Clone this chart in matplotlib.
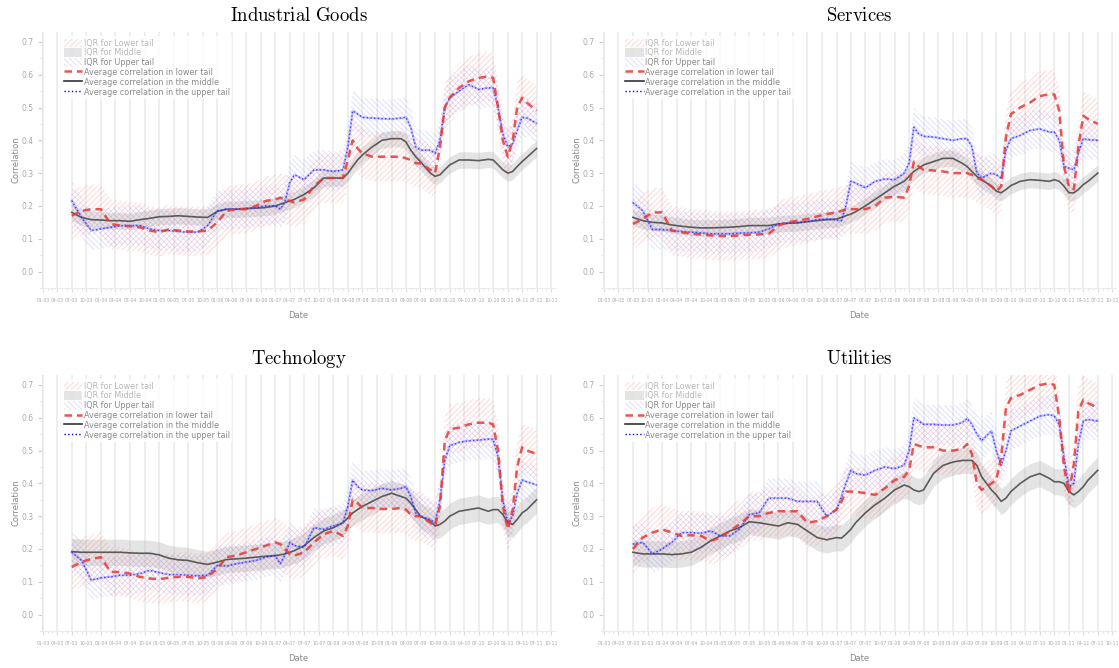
import matplotlib
matplotlib.use("Agg")
import matplotlib.pyplot as plt
import matplotlib.dates as mdates
from matplotlib.patches import Patch
from matplotlib.lines import Line2D
import numpy as np
import pandas as pd

plt.rcParams["mathtext.fontset"] = "cm"
plt.rcParams["hatch.linewidth"] = 0.6

KNOT_MONTHS = [6, 8, 10, 12, 14, 16, 18, 20, 22, 24, 26, 28, 30, 32, 34, 36, 38, 40,
               42, 44, 46, 48, 49, 50, 51, 52, 54, 56, 58, 60, 62, 63, 64, 65, 66,
               68, 70, 72, 74, 75, 76, 77, 78, 80, 81, 82, 83, 84, 86, 88, 90, 92,
               93, 94, 95, 96, 97, 98, 99, 100, 102]

# --- Industrial Goods -------------------------------------------------------
ind_lower = [0.17, 0.185, 0.19, 0.19, 0.145, 0.14, 0.138, 0.135, 0.125, 0.12, 0.128,
             0.125, 0.122, 0.122, 0.125, 0.15, 0.185, 0.19, 0.19, 0.2, 0.215, 0.22,
             0.225, 0.22, 0.215, 0.21, 0.22, 0.26, 0.285, 0.285, 0.285, 0.34, 0.40,
             0.375, 0.36, 0.35, 0.35, 0.35, 0.35, 0.345, 0.34, 0.33, 0.33, 0.31, 0.30,
             0.38, 0.50, 0.53, 0.56, 0.58, 0.59, 0.595, 0.59, 0.50, 0.40, 0.35, 0.40,
             0.50, 0.53, 0.515, 0.49]
ind_middle = [0.18, 0.165, 0.158, 0.157, 0.155, 0.155, 0.153, 0.158, 0.162, 0.167, 0.168,
              0.17, 0.168, 0.166, 0.165, 0.183, 0.19, 0.19, 0.192, 0.193, 0.195, 0.2,
              0.205, 0.21, 0.215, 0.22, 0.235, 0.255, 0.285, 0.285, 0.285, 0.3, 0.32,
              0.34, 0.355, 0.38, 0.40, 0.405, 0.405, 0.395, 0.37, 0.35, 0.335, 0.30,
              0.29, 0.295, 0.31, 0.325, 0.34, 0.34, 0.338, 0.342, 0.34, 0.325, 0.31,
              0.30, 0.305, 0.32, 0.335, 0.348, 0.375]
ind_upper = [0.216, 0.165, 0.125, 0.13, 0.135, 0.14, 0.14, 0.14, 0.13, 0.125, 0.125,
             0.122, 0.12, 0.12, 0.14, 0.185, 0.19, 0.19, 0.192, 0.195, 0.2, 0.2, 0.19,
             0.21, 0.27, 0.295, 0.28, 0.31, 0.31, 0.305, 0.31, 0.38, 0.49, 0.48, 0.47,
             0.468, 0.466, 0.465, 0.468, 0.47, 0.44, 0.38, 0.37, 0.37, 0.36, 0.40,
             0.50, 0.53, 0.55, 0.57, 0.555, 0.56, 0.56, 0.50, 0.42, 0.38, 0.39, 0.43,
             0.47, 0.468, 0.452]

# --- Services ---------------------------------------------------------------
srv_lower = [0.145, 0.16, 0.18, 0.18, 0.125, 0.12, 0.115, 0.113, 0.11, 0.108, 0.108,
             0.11, 0.112, 0.113, 0.115, 0.14, 0.15, 0.155, 0.16, 0.168, 0.175, 0.18,
             0.185, 0.19, 0.19, 0.19, 0.19, 0.2, 0.225, 0.228, 0.225, 0.26, 0.335,
             0.32, 0.31, 0.308, 0.305, 0.30, 0.30, 0.30, 0.295, 0.285, 0.28, 0.26,
             0.245, 0.26, 0.41, 0.48, 0.50, 0.515, 0.535, 0.54, 0.54, 0.49, 0.32,
             0.26, 0.25, 0.38, 0.475, 0.465, 0.45]
srv_middle = [0.165, 0.155, 0.15, 0.148, 0.142, 0.138, 0.135, 0.133, 0.133, 0.134, 0.135,
              0.137, 0.14, 0.14, 0.14, 0.145, 0.147, 0.148, 0.152, 0.155, 0.158, 0.16,
              0.165, 0.17, 0.175, 0.182, 0.2, 0.22, 0.24, 0.26, 0.275, 0.29, 0.305,
              0.315, 0.325, 0.335, 0.345, 0.345, 0.33, 0.32, 0.305, 0.29, 0.28, 0.26,
              0.245, 0.24, 0.25, 0.262, 0.275, 0.28, 0.278, 0.275, 0.28, 0.275, 0.26,
              0.24, 0.24, 0.25, 0.265, 0.275, 0.30]
srv_upper = [0.21, 0.185, 0.128, 0.128, 0.125, 0.122, 0.12, 0.118, 0.115, 0.115, 0.115,
             0.117, 0.118, 0.12, 0.13, 0.145, 0.148, 0.15, 0.152, 0.158, 0.16, 0.157,
             0.155, 0.2, 0.275, 0.27, 0.255, 0.275, 0.282, 0.28, 0.30, 0.33, 0.44,
             0.42, 0.412, 0.41, 0.405, 0.40, 0.405, 0.405, 0.38, 0.30, 0.285, 0.30,
             0.295, 0.285, 0.37, 0.405, 0.415, 0.43, 0.435, 0.425, 0.425, 0.40, 0.32,
             0.315, 0.31, 0.36, 0.405, 0.402, 0.40]

# --- Technology -------------------------------------------------------------
tec_lower = [0.145, 0.16, 0.17, 0.175, 0.13, 0.13, 0.125, 0.115, 0.11, 0.108, 0.112,
             0.115, 0.115, 0.11, 0.115, 0.14, 0.175, 0.18, 0.19, 0.2, 0.21, 0.22,
             0.215, 0.20, 0.185, 0.18, 0.19, 0.22, 0.245, 0.255, 0.24, 0.27, 0.35,
             0.34, 0.325, 0.325, 0.322, 0.322, 0.325, 0.32, 0.305, 0.30, 0.30, 0.28,
             0.27, 0.33, 0.53, 0.565, 0.57, 0.58, 0.585, 0.585, 0.58, 0.50, 0.33,
             0.26, 0.32, 0.45, 0.51, 0.50, 0.49]
tec_middle = [0.192, 0.19, 0.19, 0.19, 0.19, 0.19, 0.188, 0.187, 0.187, 0.182, 0.172,
              0.167, 0.165, 0.158, 0.153, 0.16, 0.168, 0.17, 0.172, 0.175, 0.178, 0.18,
              0.182, 0.185, 0.19, 0.195, 0.21, 0.235, 0.255, 0.265, 0.28, 0.295, 0.31,
              0.32, 0.33, 0.345, 0.36, 0.37, 0.36, 0.355, 0.34, 0.32, 0.30, 0.285,
              0.27, 0.275, 0.285, 0.30, 0.315, 0.32, 0.325, 0.315, 0.32, 0.32, 0.305,
              0.28, 0.275, 0.29, 0.31, 0.32, 0.35]
tec_upper = [0.19, 0.165, 0.105, 0.112, 0.115, 0.12, 0.12, 0.125, 0.135, 0.128, 0.122,
             0.122, 0.12, 0.118, 0.12, 0.15, 0.148, 0.155, 0.16, 0.165, 0.175, 0.18,
             0.155, 0.18, 0.22, 0.21, 0.205, 0.265, 0.26, 0.27, 0.28, 0.33, 0.41,
             0.39, 0.38, 0.378, 0.385, 0.38, 0.385, 0.39, 0.36, 0.31, 0.30, 0.29,
             0.28, 0.35, 0.47, 0.515, 0.525, 0.53, 0.532, 0.535, 0.535, 0.48, 0.35,
             0.28, 0.30, 0.37, 0.41, 0.405, 0.395]

# --- Utilities --------------------------------------------------------------
utl_lower = [0.20, 0.235, 0.25, 0.26, 0.25, 0.24, 0.242, 0.24, 0.225, 0.235, 0.255,
             0.275, 0.30, 0.30, 0.31, 0.315, 0.315, 0.315, 0.28, 0.285, 0.30, 0.32,
             0.345, 0.375, 0.375, 0.375, 0.37, 0.365, 0.385, 0.41, 0.42, 0.44, 0.52,
             0.515, 0.51, 0.51, 0.50, 0.50, 0.505, 0.52, 0.49, 0.40, 0.38, 0.40,
             0.41, 0.48, 0.63, 0.66, 0.67, 0.685, 0.70, 0.705, 0.70, 0.60, 0.45,
             0.37, 0.46, 0.62, 0.655, 0.645, 0.63]
utl_middle = [0.19, 0.185, 0.185, 0.185, 0.183, 0.185, 0.19, 0.205, 0.225, 0.24, 0.255,
              0.265, 0.283, 0.28, 0.275, 0.27, 0.28, 0.275, 0.255, 0.235, 0.228, 0.235,
              0.233, 0.245, 0.26, 0.28, 0.31, 0.335, 0.355, 0.38, 0.395, 0.39, 0.38,
              0.375, 0.38, 0.43, 0.455, 0.465, 0.47, 0.47, 0.47, 0.455, 0.42, 0.38,
              0.365, 0.345, 0.355, 0.375, 0.40, 0.42, 0.43, 0.415, 0.405, 0.405, 0.40,
              0.375, 0.365, 0.375, 0.39, 0.41, 0.44]
utl_upper = [0.215, 0.22, 0.185, 0.2, 0.22, 0.25, 0.25, 0.248, 0.255, 0.24, 0.24,
             0.26, 0.305, 0.31, 0.355, 0.355, 0.355, 0.345, 0.345, 0.345, 0.30, 0.32,
             0.36, 0.40, 0.44, 0.43, 0.425, 0.44, 0.45, 0.445, 0.455, 0.50, 0.60,
             0.59, 0.58, 0.58, 0.578, 0.578, 0.585, 0.598, 0.58, 0.55, 0.53, 0.56,
             0.50, 0.455, 0.50, 0.56, 0.575, 0.59, 0.605, 0.61, 0.605, 0.58, 0.48,
             0.39, 0.40, 0.52, 0.59, 0.595, 0.59]

# IQR half-widths (lower tail, middle, upper tail) per sector
ind_iqr = (0.075, 0.025, 0.06)
srv_iqr = (0.075, 0.025, 0.06)
tec_iqr = (0.075, 0.04, 0.06)
utl_iqr = (0.075, 0.04, 0.06)

PANELS = [
    ("Industrial Goods", ind_lower, ind_middle, ind_upper, ind_iqr),
    ("Services", srv_lower, srv_middle, srv_upper, srv_iqr),
    ("Technology", tec_lower, tec_middle, tec_upper, tec_iqr),
    ("Utilities", utl_lower, utl_middle, utl_upper, utl_iqr),
]

base = pd.Timestamp("2003-01-01")
dates = [base + pd.DateOffset(months=m) for m in KNOT_MONTHS]

RED = "#e53935"
RED_HATCH = (1.0, 0.45, 0.45, 0.33)
BLUE_HATCH = (0.45, 0.45, 1.0, 0.26)
GRAY_BAND = (0.72, 0.72, 0.72, 0.38)
TXT = "#888888"

fig = plt.figure(figsize=(11.19, 6.68), dpi=100)
W, H = 0.4585, 0.383
boxes = [(0.0375, 0.569), (0.539, 0.569), (0.0375, 0.0554), (0.539, 0.0554)]

for (title, lo, mid, up, iqr), (x0, y0) in zip(PANELS, boxes):
    ax = fig.add_axes([x0, y0, W, H])
    lo, mid, up = np.array(lo), np.array(mid), np.array(up)
    wl, wm, wu = iqr

    ax.fill_between(dates, mid - wm, mid + wm, color=GRAY_BAND, lw=0, zorder=2)
    ax.fill_between(dates, lo - wl, lo + wl, facecolor="none", edgecolor=RED_HATCH,
                    hatch="//////", lw=0, zorder=2)
    ax.fill_between(dates, up - wu, up + wu, facecolor="none", edgecolor=BLUE_HATCH,
                    hatch="\\\\\\\\\\\\", lw=0, zorder=2)

    ax.plot(dates, mid, color="#444444", lw=1.2, alpha=0.85, zorder=4)
    ax.plot(dates, up, color=(0.4, 0.4, 1.0), lw=1.7, alpha=0.35, zorder=4)
    ax.plot(dates, up, color="blue", lw=1.0, ls=":", alpha=0.65, zorder=5)
    ax.plot(dates, lo, color=RED, lw=1.8, dashes=(3, 2), alpha=0.85, zorder=6)

    ax.set_ylim(-0.05, 0.73)
    ax.set_xlim(pd.Timestamp("2002-12-26"), pd.Timestamp("2011-10-25"))
    ax.set_yticks([0.0, 0.1, 0.2, 0.3, 0.4, 0.5, 0.6, 0.7])
    ax.set_yticks(np.arange(-0.05, 0.73, 0.05), minor=True)
    ax.xaxis.set_major_locator(mdates.MonthLocator(bymonth=[1, 4, 7, 10]))
    ax.xaxis.set_major_formatter(mdates.DateFormatter("%m-%y"))
    ax.xaxis.set_minor_locator(mdates.MonthLocator())

    ax.grid(True, axis="x", which="major", color="#ebebeb", lw=1.2, zorder=0)
    ax.set_axisbelow(True)
    for s in ("top", "right"):
        ax.spines[s].set_visible(False)
    ax.spines["left"].set_color("#e6e6e6")
    ax.spines["bottom"].set_color("#ebebeb")
    ax.tick_params(axis="x", which="major", labelsize=3.3, colors="#dddddd",
                   labelcolor="#a8a8a8", length=3, pad=4)
    ax.tick_params(axis="x", which="minor", colors="#dddddd", length=1.5)
    ax.tick_params(axis="y", which="major", labelsize=5.5, colors="#cccccc",
                   labelcolor="#aaaaaa", length=3, pad=3)
    ax.tick_params(axis="y", which="minor", colors="#dddddd", length=1.5)

    ax.set_xlabel("Date", fontsize=6, color=TXT, labelpad=6)
    ax.set_ylabel("Correlation", fontsize=6, color=TXT, labelpad=1)
    ax.set_title(r"$\mathrm{" + title.replace(" ", r"\ ") + "}$", fontsize=13.5, pad=8)

    handles = [
        Patch(facecolor="none", edgecolor=RED_HATCH, hatch="//////", lw=0),
        Patch(facecolor=GRAY_BAND, lw=0),
        Patch(facecolor="none", edgecolor=BLUE_HATCH, hatch="\\\\\\\\\\\\", lw=0),
        Line2D([], [], color=RED, lw=1.8, dashes=(3, 2), alpha=0.85),
        Line2D([], [], color="#333333", lw=1.2),
        Line2D([], [], color="blue", lw=1.0, ls=":"),
    ]
    labels = ["IQR for Lower tail", "IQR for Middle", "IQR for Upper tail",
              "Average correlation in lower tail", "Average correlation in the middle",
              "Average correlation in the upper tail"]
    leg = ax.legend(handles, labels, loc="upper left", bbox_to_anchor=(0.03, 1.0),
                    fontsize=5.8, frameon=True, framealpha=0.85, edgecolor="none",
                    handlelength=2.3, handleheight=1.25, labelspacing=0.1,
                    handletextpad=0.2, borderpad=0.3, fancybox=False)
    for i, t in enumerate(leg.get_texts()):
        t.set_color("#b8b8b8" if i < 2 else "#8a8a8a")
    leg.set_zorder(7)

fig.savefig("out.png", dpi=100)
